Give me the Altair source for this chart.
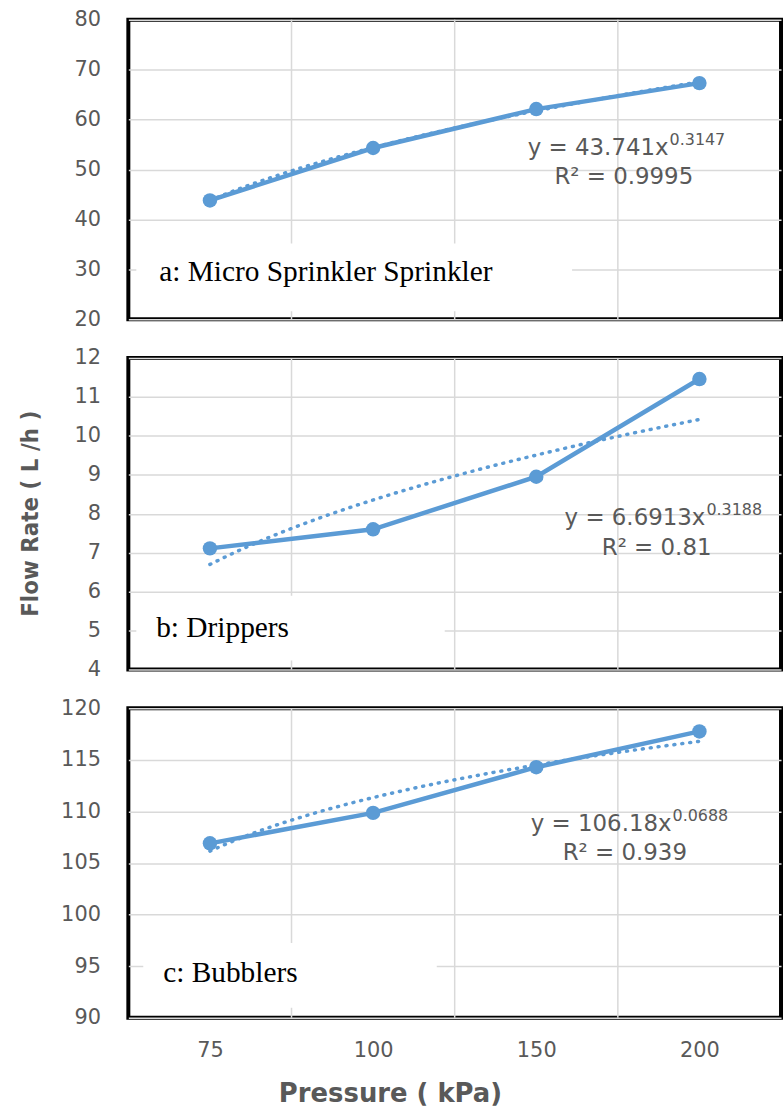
import json
import altair as alt
import pandas as pd

# ---------------- data ----------------
pressures = ["75", "100", "150", "200"]          # kPa, category labels
positions = [1, 2, 3, 4]                         # category index (Excel-style x for trendline)
micro_sprinkler = [43.8, 54.3, 62.1, 67.3]       # L/h
drippers = [7.11, 7.6, 8.95, 11.46]              # L/h
bubblers = [106.9, 109.85, 114.28, 117.75]       # L/h

panel_labels = ["a: Micro Sprinkler Sprinkler", "b: Drippers", "c: Bubblers"]
eq_main = ["y = 43.741x", "y = 6.6913x", "y = 106.18x"]
eq_exp = ["0.3147", "0.3188", "0.0688"]
r2_text = ["R² = 0.9995", "R² = 0.81", "R² = 0.939"]
y_domains = [[20, 80], [4, 12], [90, 120]]
y_ticks = [[20, 30, 40, 50, 60, 70, 80],
           [4, 5, 6, 7, 8, 9, 10, 11, 12],
           [90, 95, 100, 105, 110, 115, 120]]
boundaries = [p + 0.5 for p in positions[:-1]]

# ---------------- style ----------------
BLUE = "#5b9bd5"
GRID = "#d9d9d9"
GRAY = "#595959"
W = 656
TICK_FONT = "DejaVu Sans"
label_expr = json.dumps(pressures) + "[datum.value - 1]"


def panel(values, idx, height, show_x, show_ytitle, label_xy, box, eq_xy, r2_xy):
    df = pd.DataFrame({"pos": positions, "pressure": pressures, "flow": values})
    xscale = alt.Scale(domain=[0.5, 4.5], nice=False, zero=False)
    yscale = alt.Scale(domain=y_domains[idx], nice=False, zero=False)

    if show_x:
        xaxis = alt.Axis(values=positions, labelExpr=label_expr, grid=False,
                         ticks=False, domain=False, labelFont=TICK_FONT,
                         labelFontSize=21, labelColor=GRAY, labelPadding=22,
                         titleFont="DejaVu Sans", titleFontWeight="bold",
                         titleFontSize=26, titleColor=GRAY, titleX=263,
                         titleY=76, titleBaseline="middle", titleAlign="center")
        xtitle = "Pressure ( kPa)"
    else:
        xaxis = None
        xtitle = None

    yaxis_kw = dict(values=y_ticks[idx], grid=True, gridColor=GRID, gridWidth=1.5,
                    ticks=False, domain=False, labelFont=TICK_FONT,
                    labelFontSize=21, labelColor=GRAY, labelPadding=28)
    if show_ytitle:
        yaxis = alt.Axis(titleFont="DejaVu Sans Condensed",
                         titleFontWeight="bold", titleFontSize=24, titleColor=GRAY,
                         titleX=-98, titleY=156, titleBaseline="middle",
                         titleAlign="center", **yaxis_kw)
        ytitle = "Flow Rate ( L /h )"
    else:
        yaxis = alt.Axis(**yaxis_kw)
        ytitle = None

    def xe(f):
        return alt.X(f + ":Q", scale=xscale, axis=xaxis, title=xtitle)

    def ye(f):
        return alt.Y(f + ":Q", scale=yscale, axis=yaxis, title=ytitle)

    base = alt.Chart(df)
    one = alt.Chart(pd.DataFrame({"k": [0]}))

    vgrid = alt.Chart(pd.DataFrame({"b": boundaries})).mark_rule(
        color=GRID, strokeWidth=1.5).encode(x=xe("b"))

    rect = one.mark_rect(fill="white").encode(
        x=alt.value(box[0]), x2=alt.value(box[1]),
        y=alt.value(box[2]), y2=alt.value(box[3]))

    trend = base.transform_regression("pos", "flow", method="pow").mark_line(
        color=BLUE, strokeWidth=3.5, strokeDash=[1, 7], strokeCap="round"
    ).encode(x=xe("pos"), y=ye("flow"))

    line = base.mark_line(color=BLUE, strokeWidth=4.5).encode(x=xe("pos"), y=ye("flow"))
    pts = base.mark_circle(color=BLUE, size=210, opacity=1).encode(x=xe("pos"), y=ye("flow"))

    lab = one.mark_text(font="Liberation Serif", fontSize=29.5, color="black",
                        align="left", baseline="middle").encode(
        x=alt.value(label_xy[0]), y=alt.value(label_xy[1]),
        text=alt.value(panel_labels[idx]))

    eq1 = one.mark_text(font=TICK_FONT, fontSize=23, color=GRAY,
                        align="right", baseline="middle").encode(
        x=alt.value(eq_xy[0]), y=alt.value(eq_xy[1]), text=alt.value(eq_main[idx]))
    eq2 = one.mark_text(font=TICK_FONT, fontSize=16, color=GRAY,
                        align="left", baseline="middle").encode(
        x=alt.value(eq_xy[0] + 1), y=alt.value(eq_xy[1] - 8), text=alt.value(eq_exp[idx]))
    r2 = one.mark_text(font=TICK_FONT, fontSize=23, color=GRAY,
                       align="center", baseline="middle").encode(
        x=alt.value(r2_xy[0]), y=alt.value(r2_xy[1]), text=alt.value(r2_text[idx]))

    return alt.layer(vgrid, rect, trend, line, pts, lab, eq1, eq2, r2).properties(
        width=W, height=height)


pa = panel(micro_sprinkler, 0, 301, False, False, (31, 254), (8, 446, 225, 293),
           (543, 129), (498, 158))
pb = panel(drippers, 1, 313, False, True, (28, 271), (8, 318, 239, 304),
           (580, 161), (531, 191))
pc = panel(bubblers, 2, 311, True, False, (35, 266), (15, 310, 236, 301),
           (546, 116), (499, 146))

chart = alt.vconcat(pa, pb, pc, spacing=39, bounds="flush").properties(
    padding={"left": 17, "top": 4, "right": 0, "bottom": 0},
    background="white",
).configure_view(stroke="black", strokeWidth=4)

chart.save("out.html", embed_options={"renderer": "svg", "actions": False})
